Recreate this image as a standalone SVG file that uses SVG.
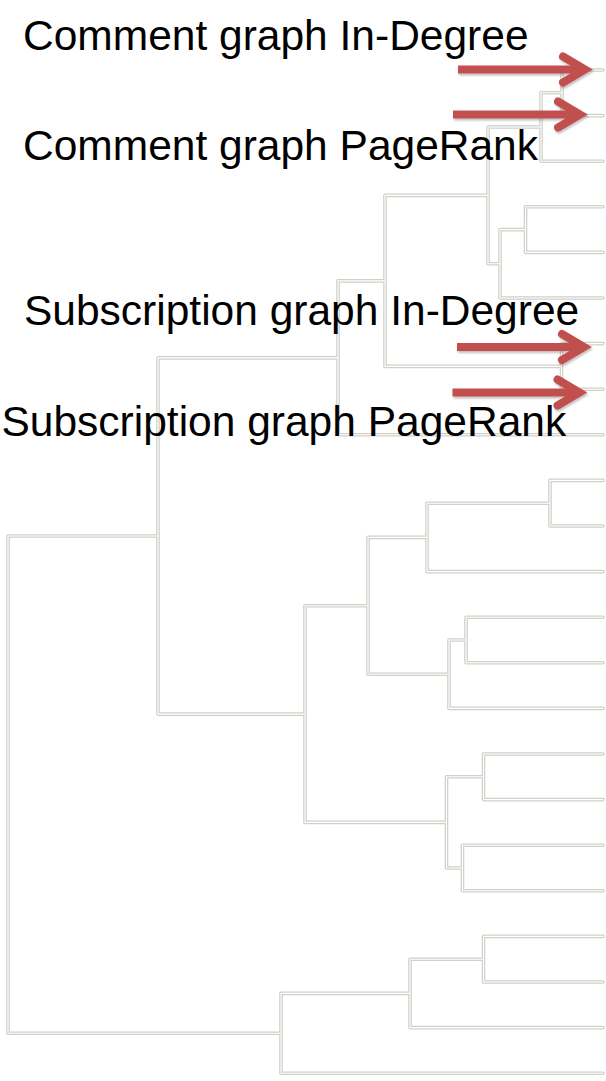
<svg xmlns="http://www.w3.org/2000/svg" width="606" height="1081" viewBox="0 0 606 1081">
  <style>
    .link { fill: none; stroke-linejoin: round; stroke-linecap: round; }
    .edge { stroke: #d0d0c8; stroke-width: 3.6; }
    .core { stroke: #ffffff; stroke-width: 1.1; }
    .lbl { font-family: "Liberation Sans", Arial, sans-serif; font-size: 42.5px; fill: #000000; }
    .arw { fill: none; stroke: #c0504d; stroke-width: 8; }
  </style>
  <defs>
    <filter id="shade" x="-10%" y="-50%" width="120%" height="200%">
      <feDropShadow dx="1" dy="2" stdDeviation="1.2" flood-color="#000" flood-opacity="0.25"/>
    </filter>
    <!-- block arrow, tip at the origin -->
    <g id="pointer">
      <path class="arw" d="M-135,0 H-12" stroke-linecap="butt"/>
      <path class="arw" d="M-30,-13 L-8,0 L-30,13" stroke-linecap="round" stroke-linejoin="miter" stroke-miterlimit="10"/>
    </g>
    <!-- dendrogram branches: each U joins two children at the merge height -->
    <path id="tree" d="
      M603,70 H562 V115.6 H603
      M562,92.8 H541 V161.2 H603
      M603,206.8 H525.5 V252.4 H603
      M525.5,229.6 H500 V298 H603
      M541,127 H488 V263.8 H500
      M603,343.6 H561.5 V389.2 H603
      M488,195.4 H385 V366.4 H561.5
      M385,280.9 H338 V434.8 H603
      M603,480.4 H550 V526 H603
      M550,503.2 H427 V571.6 H603
      M603,617.2 H466 V662.8 H603
      M466,640 H449 V708.4 H603
      M427,537.4 H368 V674.2 H449
      M603,754 H483.5 V799.6 H603
      M603,845.2 H462.5 V890.8 H603
      M483.5,776.8 H446.5 V868 H462.5
      M368,605.8 H305 V822.4 H446.5
      M338,357.9 H158 V714.1 H305
      M603,936.4 H483.5 V982 H603
      M483.5,959.2 H410 V1027.6 H603
      M410,993.4 H281 V1073.2 H603
      M158,536 H8 V1033.3 H281"/>
  </defs>

  <rect x="0" y="0" width="606" height="1081" fill="#ffffff"/>

  <g id="connectors">
    <use href="#tree" class="link edge"/>
    <use href="#tree" class="link core"/>
  </g>

  <g id="label-comment-indegree">
    <text class="lbl" x="23" y="49.5">Comment graph In-Degree</text>
  </g>
  <g id="label-comment-pagerank">
    <text class="lbl" x="23" y="160">Comment graph PageRank</text>
  </g>
  <g id="label-subscription-indegree">
    <text class="lbl" x="24" y="325">Subscription graph In-Degree</text>
  </g>
  <g id="label-subscription-pagerank">
    <text class="lbl" x="1.5" y="436">Subscription graph PageRank</text>
  </g>

  <g id="markers" filter="url(#shade)">
    <use href="#pointer" transform="translate(593,69.5)"/>
    <use href="#pointer" transform="translate(588,114.5)"/>
    <use href="#pointer" transform="translate(592,347)"/>
    <use href="#pointer" transform="translate(587.5,392.5)"/>
  </g>
</svg>
